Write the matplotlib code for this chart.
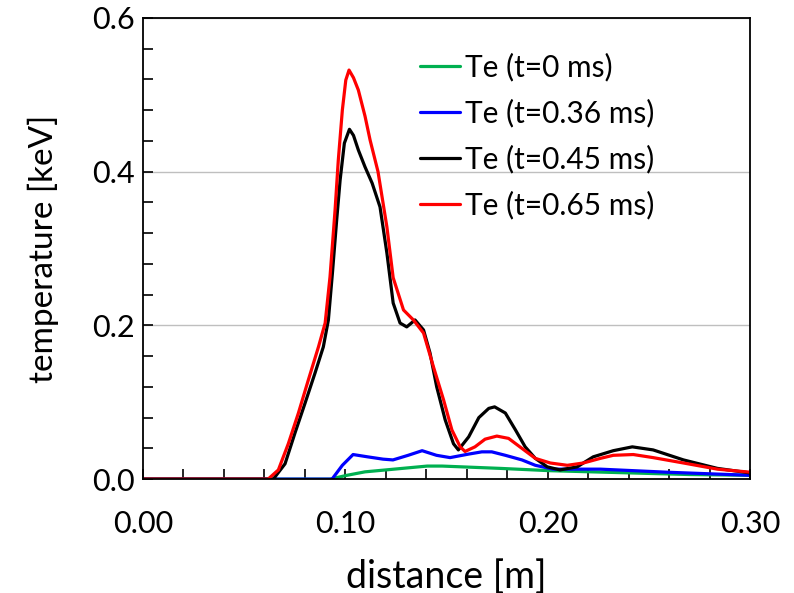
import matplotlib
matplotlib.use("Agg")
import matplotlib.pyplot as plt
from matplotlib.ticker import MultipleLocator, FormatStrFormatter

# Te profiles: distance [m], temperature [keV]
x_t0 = [0.0, 0.06, 0.0924, 0.1008, 0.1097, 0.12, 0.1404, 0.1478, 0.1764, 0.201, 0.242, 0.27, 0.30]
te_t0 = [0.0, 0.0, 0.0, 0.005, 0.0095, 0.012, 0.017, 0.017, 0.014, 0.011, 0.008, 0.006, 0.005]

x_t036 = [0.0, 0.0934, 0.0985, 0.1038, 0.111, 0.1186, 0.1235, 0.1310, 0.1379, 0.1450,
          0.1517, 0.1607, 0.1674, 0.1723, 0.179, 0.1872, 0.1938, 0.2026, 0.2259, 0.259, 0.30]
te_t036 = [0.0, 0.0, 0.018, 0.032, 0.029, 0.026, 0.025, 0.031, 0.037, 0.031,
           0.028, 0.0325, 0.0355, 0.0355, 0.031, 0.025, 0.018, 0.013, 0.013, 0.009, 0.005]

x_t045 = [0.0, 0.0644, 0.0702, 0.0751, 0.0801, 0.085, 0.0891, 0.0916, 0.0936, 0.0957,
          0.0974, 0.0995, 0.1020, 0.1040, 0.1064, 0.1097, 0.1132, 0.1171, 0.1205, 0.1236,
          0.127, 0.1303, 0.1344, 0.1386, 0.1418, 0.1451, 0.1493, 0.1534, 0.1558, 0.1609,
          0.1659, 0.1708, 0.1737, 0.179, 0.184, 0.1888, 0.1938, 0.1997, 0.206, 0.2145,
          0.2224, 0.2323, 0.2417, 0.252, 0.267, 0.2837, 0.30]
te_t045 = [0.0, 0.0, 0.020, 0.060, 0.099, 0.138, 0.172, 0.207, 0.268, 0.337,
           0.389, 0.437, 0.455, 0.447, 0.428, 0.406, 0.385, 0.354, 0.294, 0.229,
           0.203, 0.198, 0.207, 0.194, 0.164, 0.120, 0.077, 0.046, 0.038, 0.055,
           0.080, 0.092, 0.094, 0.086, 0.064, 0.042, 0.027, 0.016, 0.012, 0.016,
           0.029, 0.037, 0.042, 0.038, 0.025, 0.014, 0.008]

x_t065 = [0.0, 0.0618, 0.0669, 0.0718, 0.0768, 0.0817, 0.0867, 0.090, 0.0924, 0.0949,
          0.0965, 0.0985, 0.1002, 0.1018, 0.1040, 0.1064, 0.1097, 0.1122, 0.1161, 0.1205,
          0.1236, 0.1287, 0.1336, 0.1386, 0.1435, 0.1485, 0.1526, 0.1567, 0.1591, 0.164,
          0.169, 0.1748, 0.1806, 0.1872, 0.1938, 0.2012, 0.2096, 0.2175, 0.2259, 0.2323,
          0.2422, 0.252, 0.267, 0.2837, 0.30]
te_t065 = [0.0, 0.0, 0.012, 0.046, 0.086, 0.129, 0.172, 0.203, 0.263, 0.350,
           0.415, 0.480, 0.519, 0.532, 0.522, 0.506, 0.472, 0.441, 0.400, 0.328,
           0.262, 0.220, 0.207, 0.190, 0.146, 0.103, 0.064, 0.042, 0.036, 0.042,
           0.052, 0.056, 0.053, 0.040, 0.027, 0.021, 0.018, 0.021, 0.027, 0.031,
           0.032, 0.028, 0.021, 0.013, 0.009]

series = [
    (x_t0, te_t0, "#00B050", "Te (t=0 ms)"),
    (x_t036, te_t036, "#0000FF", "Te (t=0.36 ms)"),
    (x_t045, te_t045, "#000000", "Te (t=0.45 ms)"),
    (x_t065, te_t065, "#FF0000", "Te (t=0.65 ms)"),
]

plt.rcParams['font.family'] = ['Lato', 'DejaVu Sans']

fig = plt.figure(figsize=(7.94, 5.93), dpi=100)
ax = fig.add_axes([0.180, 0.192, 0.765, 0.778])

for xs, ys, col, lab in series:
    ax.plot(xs, ys, color=col, lw=2.3, label=lab,
            solid_joinstyle='round', solid_capstyle='round')

ax.set_xlim(0, 0.30)
ax.set_ylim(0, 0.6)
ax.xaxis.set_major_locator(MultipleLocator(0.1))
ax.xaxis.set_minor_locator(MultipleLocator(0.02))
ax.yaxis.set_major_locator(MultipleLocator(0.2))
ax.yaxis.set_minor_locator(MultipleLocator(0.04))
ax.xaxis.set_major_formatter(FormatStrFormatter('%.2f'))
ax.yaxis.set_major_formatter(FormatStrFormatter('%.1f'))

ax.tick_params(which='both', direction='in', width=1.2, length=7, labelsize=22,
               top=False, right=False, color='black')
ax.tick_params(axis='x', which='major', pad=22)
ax.tick_params(axis='y', which='major', pad=6)
ax.grid(axis='y', which='major', color='#BFBFBF', lw=1.0)
ax.set_axisbelow(True)
for sp in ax.spines.values():
    sp.set_linewidth(1.3)

ax.set_xlabel("distance [m]", fontsize=27, labelpad=15)
ax.set_ylabel("temperature [keV]", fontsize=24, labelpad=24)

ax.legend(loc='upper left', bbox_to_anchor=(0.456, 0.925), frameon=False, fontsize=21.5,
          handlelength=1.34, handletextpad=0.18, labelspacing=0.58, borderaxespad=0,
          borderpad=0)

fig.savefig("out.png", dpi=100)
